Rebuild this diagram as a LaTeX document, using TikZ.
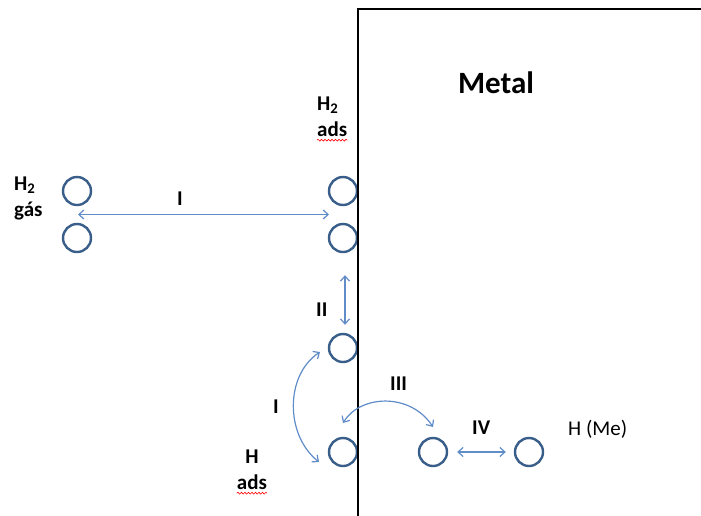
\documentclass[tikz,border=0pt]{standalone}
\usepackage{fontspec}
\setmainfont{Carlito}
\usetikzlibrary{arrows.meta,calc,decorations.pathmorphing}

\definecolor{molblue}{RGB}{58,94,138}
\definecolor{arrblue}{RGB}{96,140,200}

\begin{document}
\begin{tikzpicture}[x=1pt, y=-1pt,
  mol/.style={draw=molblue, circle, line width=2.4pt, minimum size=28pt, inner sep=0pt},
  arr/.style={{Straight Barb[length=5pt,width=9pt]}-{Straight Barb[length=5pt,width=9pt]}, draw=arrblue, line width=1.2pt},
  lbl/.style={font=\fontsize{21}{26}\selectfont\bfseries, inner sep=0pt},
  spell/.style={draw=red, line width=0.6pt, decorate, decoration={snake, amplitude=0.9pt, segment length=3.5pt}}
]
\useasboundingbox (0,0) rectangle (701,515);

% molecules and atoms
\node[mol] (g1) at (77,191) {};
\node[mol] (g2) at (77,238) {};
\node[mol] (a1) at (343,191) {};
\node[mol] (a2) at (343,238) {};
\node[mol] (h1) at (343,348) {};
\node[mol] (h2) at (343,452) {};
\node[mol] (hm1) at (433,452) {};
\node[mol] (hm2) at (529,452) {};

% metal surface
\draw[line width=2.6pt, line join=miter] (358,520) -- (358,9) -- (705,9);
\node[lbl, font=\fontsize{31}{36}\selectfont\bfseries, anchor=base] (metal) at (496,93) {Metal};

% labels
\node[lbl, align=left, anchor=north west] (gas) at (14,177) {H\textsubscript{2}\\gás};
\node[lbl, align=left, anchor=north west] (h2ads) at (317,97) {H\textsubscript{2}\\ads};
\node[lbl, align=center, anchor=north] (hads) at (252,450) {H\\ads};
\node[font=\fontsize{21}{26}\selectfont, inner sep=0pt, anchor=base west] (hme) at (568,435) {H (Me)};
\draw[spell] ([yshift=-3pt]h2ads.south west) -- ([yshift=-3pt]h2ads.south east);
\draw[spell] ([yshift=-3pt]hads.south west) -- ([yshift=-3pt]hads.south east);

% steps
\coordinate (gmid) at ($(g1)!0.5!(g2)$);
\coordinate (amid) at ($(a1)!0.5!(a2)$);
\draw[arr, shorten <=1pt, shorten >=14pt] (gmid) -- (amid);
\node[lbl, anchor=base west] (s1) at (177,205) {I};

\draw[arr] ([xshift=2pt,yshift=-22pt]a2.south) -- ([xshift=2pt,yshift=8pt]h1.north);
\node[lbl, anchor=base west] (s2) at (316,316) {II};

\draw[arr] ([xshift=-23pt,yshift=-4pt]h1.center) .. controls +(-35,23) and +(-34,-27) .. ([xshift=-24pt,yshift=-10pt]h2.center);
\node[lbl, anchor=base west] (s1b) at (273,413) {I};

\draw[arr] ([yshift=29pt]h2.center) .. controls +(17,-28) and +(-23,-35) .. ([yshift=25pt]hm1.center);
\node[lbl, anchor=base west] (s3) at (390,390) {III};

\draw[arr, shorten <=9pt, shorten >=8pt] (hm1.east) -- (hm2.west);
\node[lbl, anchor=base west] (s4) at (472,434) {IV};
\end{tikzpicture}
\end{document}
